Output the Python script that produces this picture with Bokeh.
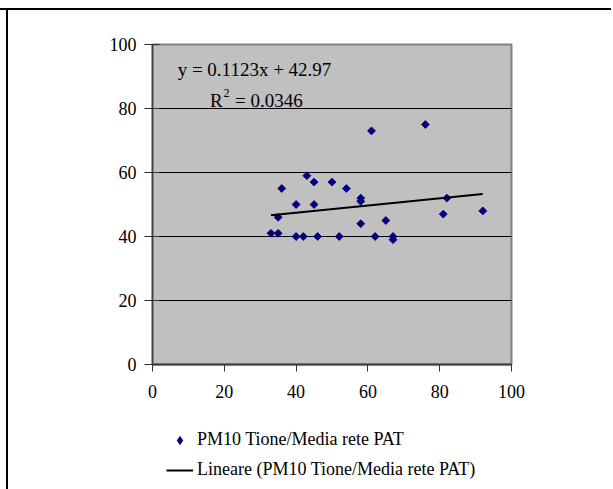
import numpy as np
from bokeh.plotting import figure
from bokeh.layouts import column, row
from bokeh.models import Range1d, FixedTicker, Legend, LegendItem, Label, ColumnDataSource
from bokeh.embed import file_html
from bokeh.resources import INLINE

# Data
x_vals = [36, 43, 45, 50, 54, 58, 58, 40, 45, 35, 58, 65, 61, 76, 82, 81, 92,
          33, 35, 40, 42, 46, 52, 62, 67, 67]
y_vals = [55, 59, 57, 57, 55, 52, 51, 50, 50, 46, 44, 45, 73, 75, 52, 47, 48,
          41, 41, 40, 40, 40, 40, 40, 40, 39]
slope = 0.1123
intercept = 42.97
eq_text = "y = 0.1123x + 42.97"
r2_value = "0.0346"
ticks = [0, 20, 40, 60, 80, 100]
series_name = "PM10 Tione/Media rete PAT"
trend_name = "Lineare (PM10 Tione/Media rete PAT)"

FONT = "Liberation Serif"
FS = "18px"
NAVY = "#000080"
MARK = dict(marker="square", angle=np.pi / 4, size=5.5,
            fill_color=NAVY, line_color=NAVY)
TREND = dict(line_color="black", line_width=2)

x0, x1 = min(x_vals), max(x_vals)
trend_x = [x0, x1]
trend_y = [slope * x0 + intercept, slope * x1 + intercept]

W = 605
H1, H2 = 404, 75
p = figure(width=W, height=H1, output_backend="svg", toolbar_location=None,
           x_range=Range1d(0, 100), y_range=Range1d(0, 100),
           min_border_left=144, min_border_right=102, min_border_top=34,
           min_border_bottom=50)
p.margin = (0, 0, 0, 6)
p.styles = {"border-left": "2px solid black"}

p.background_fill_color = "#C0C0C0"
p.border_fill_color = "white"
p.outline_line_color = "#808080"
p.outline_line_width = 2

p.xgrid.visible = False
p.ygrid.grid_line_color = "black"
p.ygrid.grid_line_width = 1
p.ygrid.ticker = FixedTicker(ticks=ticks)

for ax in (p.xaxis[0], p.yaxis[0]):
    ax.ticker = FixedTicker(ticks=ticks)
    ax.minor_tick_line_color = None
    ax.axis_line_color = "#404040"
    ax.major_tick_line_color = "#303030"
    ax.major_label_text_font = FONT
    ax.major_label_text_font_size = FS
    ax.major_label_text_color = "black"

p.xaxis.axis_line_width = 2
p.yaxis.axis_line_width = 1.5
p.yaxis.major_tick_out = 8
p.yaxis.major_tick_in = 7
p.yaxis.major_label_standoff = 8
p.xaxis.major_tick_out = 7
p.xaxis.major_tick_in = 0
p.xaxis.major_label_standoff = 13

src = ColumnDataSource(dict(x=x_vals, y=y_vals))
p.scatter("x", "y", source=src, **MARK)
p.line(trend_x, trend_y, **TREND)

p.add_layout(Label(x=7, y=92.2, text=eq_text, text_font=FONT, text_font_size="19px",
                   text_baseline="alphabetic", text_color="black"))
p.add_layout(Label(x=16, y=82.5, text="R", text_font=FONT, text_font_size="19px",
                   text_baseline="alphabetic", text_color="black"))
p.add_layout(Label(x=16, y=82.5, x_offset=13.5, y_offset=8, text="2", text_font=FONT,
                   text_font_size="12px", text_baseline="alphabetic", text_color="black"))
p.add_layout(Label(x=16, y=82.5, x_offset=25, text="= " + r2_value, text_font=FONT,
                   text_font_size="19px", text_baseline="alphabetic", text_color="black"))

# Legend strip below the chart (its ranges keep the series out of view; only the legend shows)
q = figure(width=W, height=H2, output_backend="svg", toolbar_location=None,
           x_range=Range1d(1000, 1001), y_range=Range1d(1000, 1001),
           x_axis_location=None, y_axis_location=None,
           min_border=0, min_border_left=0, min_border_right=0,
           min_border_top=0, min_border_bottom=0)
q.styles = {"border-left": "2px solid black"}
q.grid.visible = False
q.outline_line_color = None
q.background_fill_color = "white"
q.border_fill_color = "white"
r_pts = q.scatter(x_vals, y_vals, marker="diamond", size=5.5,
                  fill_color=NAVY, line_color=NAVY)
r_line = q.line(trend_x, trend_y, **TREND)

legend = Legend(items=[LegendItem(label=series_name, renderers=[r_pts]),
                       LegendItem(label=trend_name, renderers=[r_line])],
                location=(158, 9), orientation="vertical",
                label_text_font=FONT, label_text_font_size=FS, label_text_color="black",
                glyph_width=27, glyph_height=20, label_height=20, label_standoff=4,
                spacing=9, padding=0, margin=0,
                border_line_alpha=0, background_fill_alpha=0)
q.add_layout(legend, "center")

q_wrap = row(q)
q_wrap.margin = (0, 0, 0, 6)
layout = column(p, q_wrap, spacing=0)
layout.margin = (8, 0, 0, 0)
layout.styles = {"border-top": "2px solid black"}

open("out.html", "w").write(file_html(layout, INLINE))
